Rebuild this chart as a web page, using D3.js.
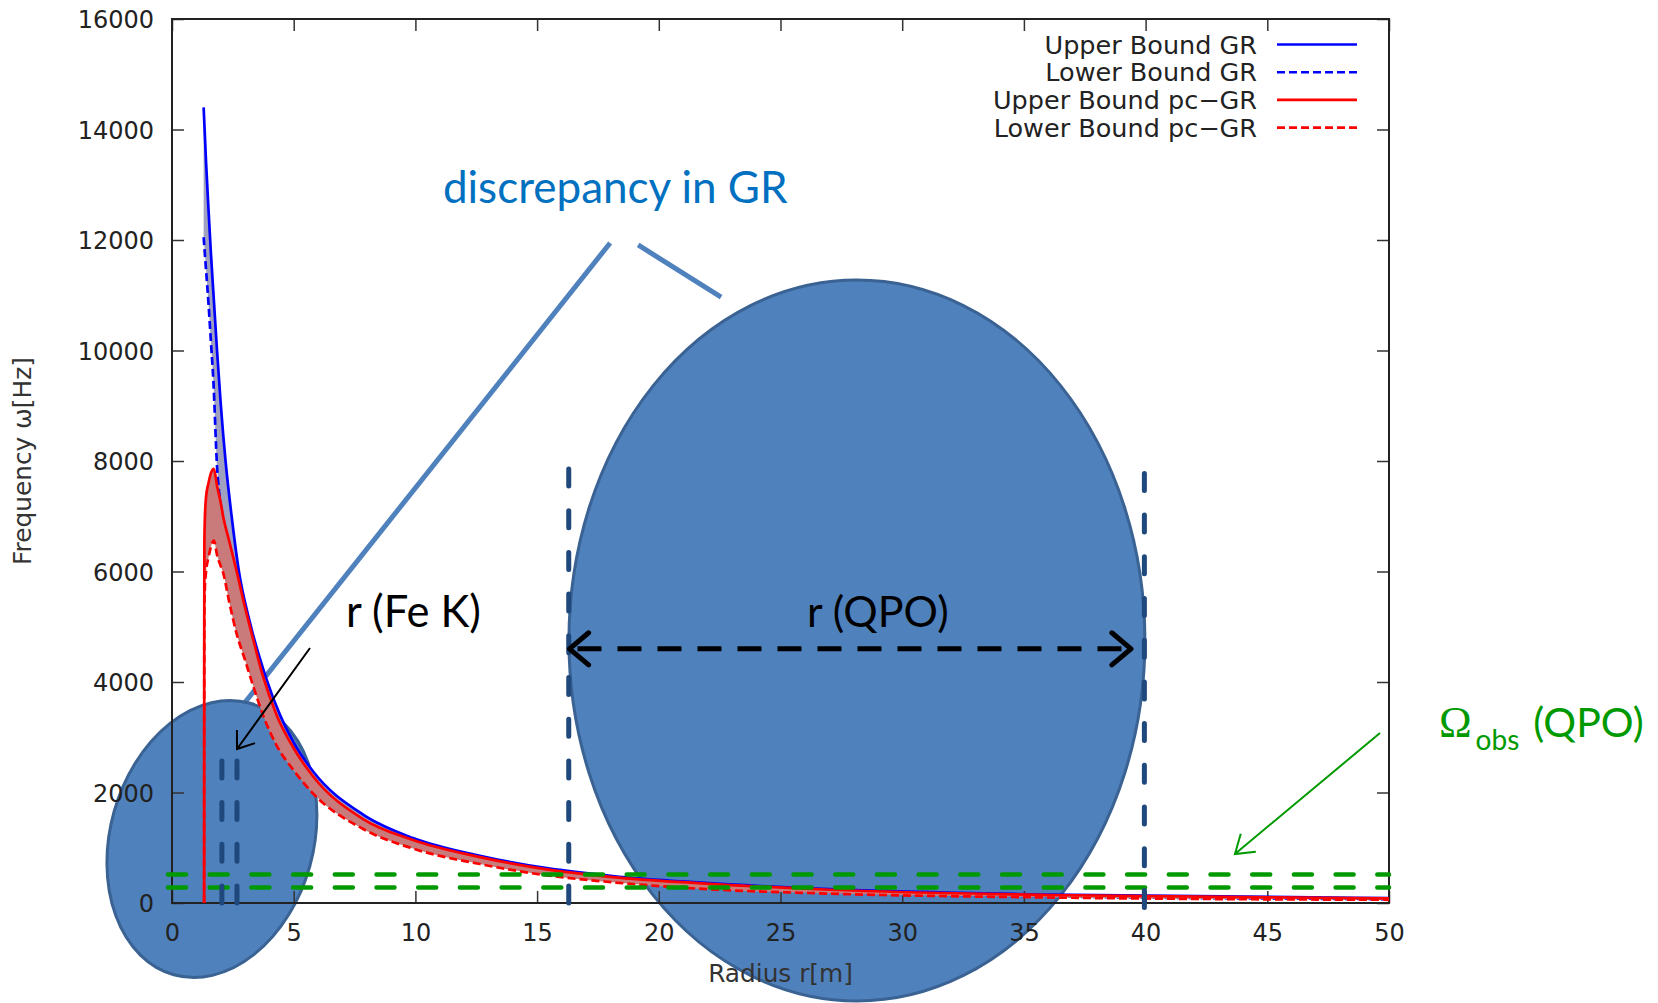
<!DOCTYPE html>
<html>
<head>
<meta charset="utf-8">
<script src="https://cdn.jsdelivr.net/npm/d3@7/dist/d3.min.js"></script>
<style>
body { margin: 0; background: #fff; }
</style>
</head>
<body>
<div id="chart"></div>
<script>
// values (r in units of m, omega in Hz)
var grRadius = [1.3, 1.4, 1.5, 1.6, 1.7, 1.85, 2.0, 2.2, 2.45, 2.75, 3.2, 3.86, 4.44, 5.0, 5.8, 7.85, 9.9, 12.65, 15.4, 18.1, 21.6, 27, 36, 50];
var grUpper  = [14400, 13400, 12550, 11750, 11050, 10000, 9050, 8000, 7000, 6000, 5080, 4080, 3400, 2900, 2380, 1600, 1175, 855, 630, 488, 372, 250, 152, 90];
var grLower  = [12050, 11450, 10850, 10150, 9450, 7900, 7200, 6700, 6000, 5300, 4550, 3700, 3100, 2650, 2150, 1420, 1050, 760, 550, 415, 305, 200, 120, 70];

var pcRadius = [1.32, 1.325, 1.33, 1.35, 1.4, 1.5, 1.6, 1.72, 1.85, 2.0, 2.1, 2.35, 2.67, 3.0, 3.29, 3.74, 4.3, 5.0, 5.8, 7.85, 9.9, 12.65, 15.4, 18.1, 21.6, 27, 36, 50];
var pcUpper  = [0, 5000, 6500, 6950, 7350, 7600, 7780, 7860, 7550, 7250, 7000, 6550, 5980, 5350, 4850, 4100, 3400, 2800, 2290, 1520, 1140, 830, 610, 470, 360, 240, 145, 85];
var pcLower  = [0, 4000, 5200, 5700, 6000, 6250, 6450, 6560, 6300, 6100, 5980, 5450, 4850, 4400, 3990, 3400, 2850, 2400, 1980, 1340, 985, 705, 500, 375, 260, 170, 100, 58];

var xTicks = [0, 5, 10, 15, 20, 25, 30, 35, 40, 45, 50];
var yTicks = [0, 2000, 4000, 6000, 8000, 10000, 12000, 14000, 16000];
var legendLabels = ["Upper Bound GR", "Lower Bound GR", "Upper Bound pc\u2212GR", "Lower Bound pc\u2212GR"];

var qpoBand = [280, 515];          // observed QPO frequency band
var feKRadius = [2.05, 2.67];      // Fe K line radii
var qpoRadius = [16.3, 39.95];     // QPO radius range


function FrequencyChart(elementId, chartWidth, chartHeight, margin) {
    this.elementId = elementId;
    this.chartWidth = chartWidth;
    this.chartHeight = chartHeight;
    this.margin = margin;
}

FrequencyChart.prototype.createFrame = function() {
    this.svg = d3.select(this.elementId).append("svg")
        .attr("width", this.chartWidth)
        .attr("height", this.chartHeight)
        .style("display", "block");
    this.svg.append("rect")
        .attr("width", this.chartWidth)
        .attr("height", this.chartHeight)
        .attr("fill", "#fff");

    this.width = this.chartWidth - this.margin.left - this.margin.right;
    this.height = this.chartHeight - this.margin.top - this.margin.bottom;
    this.x = d3.scaleLinear().domain([0, 50]).range([this.margin.left, this.margin.left + this.width]);
    this.y = d3.scaleLinear().domain([0, 16000]).range([this.margin.top + this.height, this.margin.top]);

    this.under = this.svg.append("g");
    this.plot = this.svg.append("g").style("font-family", "DejaVu Sans");
    this.over = this.svg.append("g");
}

FrequencyChart.prototype.createAxes = function() {
    var x = this.x, y = this.y, m = this.margin;
    var g = this.plot;

    g.append("g")
        .attr("transform", "translate(0," + (m.top + this.height) + ")")
        .call(d3.axisBottom(x).tickValues(xTicks).tickSizeInner(-12).tickSizeOuter(0).tickPadding(21).tickFormat(d3.format("d")));
    var left = g.append("g")
        .attr("transform", "translate(" + m.left + ",0)")
        .call(d3.axisLeft(y).tickValues(yTicks).tickSizeInner(-12).tickSizeOuter(0).tickPadding(18).tickFormat(d3.format("d")));
    g.append("g")
        .attr("transform", "translate(0," + m.top + ")")
        .call(d3.axisTop(x).tickValues(xTicks).tickSizeInner(-12).tickSizeOuter(0).tickFormat(""));
    g.append("g")
        .attr("transform", "translate(" + (m.left + this.width) + ",0)")
        .call(d3.axisRight(y).tickValues(yTicks).tickSizeInner(-12).tickSizeOuter(0).tickFormat(""));

    g.selectAll(".domain").remove();
    g.selectAll(".tick line").attr("stroke", "#333").attr("stroke-width", 1.5);
    g.selectAll(".tick text")
        .attr("fill", "#222")
        .style("font-family", "DejaVu Sans")
        .style("font-size", "24px");
    left.selectAll(".tick text").attr("dy", "0.36em");

    g.append("rect")
        .attr("x", m.left)
        .attr("y", m.top)
        .attr("width", this.width)
        .attr("height", this.height)
        .attr("fill", "none")
        .attr("stroke", "#222")
        .attr("stroke-width", 2);

    g.append("text")
        .attr("x", m.left + this.width / 2)
        .attr("y", 982)
        .attr("text-anchor", "middle")
        .attr("fill", "#333")
        .style("font-size", "24.8px")
        .text("Radius r[m]");

    g.append("text")
        .attr("transform", "translate(31," + (m.top + this.height / 2) + ") rotate(-90)")
        .attr("text-anchor", "middle")
        .attr("fill", "#333")
        .style("font-size", "24.8px")
        .text("Frequency \u03c9[Hz]");
}

FrequencyChart.prototype.createCurves = function() {
    var x = this.x, y = this.y;
    var gr = d3.zip(grRadius, grUpper, grLower);
    var pc = d3.zip(pcRadius, pcUpper, pcLower);

    var band = d3.area()
        .x(function(d) { return x(d[0]); })
        .y0(function(d) { return y(d[2]); })
        .y1(function(d) { return y(d[1]); })
        .curve(d3.curveMonotoneX);
    var upper = d3.line()
        .x(function(d) { return x(d[0]); })
        .y(function(d) { return y(d[1]); })
        .curve(d3.curveMonotoneX);
    var lower = d3.line()
        .x(function(d) { return x(d[0]); })
        .y(function(d) { return y(d[2]); })
        .curve(d3.curveMonotoneX);

    var g = this.plot.append("g").attr("fill", "none").attr("stroke-width", 2.7);
    g.append("path").attr("d", band(gr)).attr("fill", "#a0a0c0").attr("stroke", "none");
    g.append("path").attr("d", upper(gr)).attr("stroke", "#0000ff");
    g.append("path").attr("d", lower(gr)).attr("stroke", "#0000ff").attr("stroke-dasharray", "8,4");
    g.append("path").attr("d", band(pc)).attr("fill", "#c97b7b").attr("stroke", "none");
    g.append("path").attr("d", upper(pc)).attr("stroke", "#ff0000");
    g.append("path").attr("d", lower(pc)).attr("stroke", "#ff0000").attr("stroke-dasharray", "8,4");
}

FrequencyChart.prototype.createLegend = function() {
    var colors = ["#0000ff", "#0000ff", "#ff0000", "#ff0000"];
    var dashes = [null, "8,4", null, "8,4"];
    var legend = this.plot.selectAll(".legend")
        .data(legendLabels)
        .enter().append("g")
        .attr("class", "legend")
        .attr("transform", function(d, i) { return "translate(0," + (44.5 + i * 27.7) + ")"; });

    legend.append("text")
        .attr("x", 1257)
        .attr("dy", "0.36em")
        .attr("text-anchor", "end")
        .attr("fill", "#222")
        .style("font-size", "25.5px")
        .text(function(d) { return d; });

    legend.append("line")
        .attr("x1", 1277)
        .attr("x2", 1357)
        .attr("stroke", function(d, i) { return colors[i]; })
        .attr("stroke-width", 2.6)
        .attr("stroke-dasharray", function(d, i) { return dashes[i]; });
}

// open "V" arrow head at p1, pointing away from p0
function chevron(p0, p1, len, angle) {
    var a = Math.atan2(p0[1] - p1[1], p0[0] - p1[0]);
    var r = angle * Math.PI / 180;
    return "M" + (p1[0] + len * Math.cos(a + r)) + "," + (p1[1] + len * Math.sin(a + r)) +
        "L" + p1[0] + "," + p1[1] +
        "L" + (p1[0] + len * Math.cos(a - r)) + "," + (p1[1] + len * Math.sin(a - r));
}

FrequencyChart.prototype.createNotes = function() {
    var x = this.x, y = this.y;
    var pt = function(d) { return [x(d[0]), y(d[1])]; };

    // callout lines from the "discrepancy" label
    var callouts = [[[18.0, 11946], [2.88, 3566]], [[19.15, 11910], [22.56, 10968]]];
    this.under.selectAll(".callout")
        .data(callouts)
        .enter().append("line")
        .attr("x1", function(d) { return x(d[0][0]); })
        .attr("y1", function(d) { return y(d[0][1]); })
        .attr("x2", function(d) { return x(d[1][0]); })
        .attr("y2", function(d) { return y(d[1][1]); })
        .attr("stroke", "#4f81bd")
        .attr("stroke-width", 5);

    // highlight ellipses
    this.under.append("ellipse")
        .attr("transform", "translate(" + x(1.64) + "," + y(1158) + ") rotate(15.7)")
        .attr("rx", 101.6).attr("ry", 141)
        .attr("fill", "#4f81bd").attr("stroke", "#3a6293").attr("stroke-width", 3);
    this.under.append("ellipse")
        .attr("cx", x(28.14)).attr("cy", y(4751))
        .attr("rx", 288).attr("ry", 360.5)
        .attr("fill", "#4f81bd").attr("stroke", "#3a6293").attr("stroke-width", 3);

    var o = this.over;

    // observed QPO band
    o.selectAll(".qpo-band")
        .data(qpoBand)
        .enter().append("line")
        .attr("x1", x(0) - 4).attr("x2", x(50))
        .attr("y1", function(d) { return y(d); })
        .attr("y2", function(d) { return y(d); })
        .attr("stroke", "#009900")
        .attr("stroke-width", 4.5)
        .attr("stroke-linecap", "round")
        .attr("stroke-dasharray", "18,23.7");

    // radius markers, drawn upwards from the axis
    var markers = feKRadius.map(function(r) { return [r, 0, 2640]; })
        .concat(qpoRadius.map(function(r, i) { return [r, i ? -80 : 0, 7950]; }));
    o.selectAll(".marker")
        .data(markers)
        .enter().append("line")
        .attr("x1", function(d) { return x(d[0]); })
        .attr("x2", function(d) { return x(d[0]); })
        .attr("y1", function(d) { return y(d[1]); })
        .attr("y2", function(d) { return y(d[2]); })
        .attr("stroke", "#1f497d")
        .attr("stroke-width", 5)
        .attr("stroke-linecap", "round")
        .attr("stroke-dasharray", "17,24.7");

    // QPO double arrow
    var a0 = pt([16.33, 4600]), a1 = pt([39.4, 4600]);
    o.append("line")
        .attr("x1", a0[0] + 8).attr("y1", a0[1]).attr("x2", a1[0] - 8).attr("y2", a1[1])
        .attr("stroke", "#000").attr("stroke-width", 5)
        .attr("stroke-dasharray", "24,16");
    o.append("path").attr("d", chevron(a1, a0, 25, 40) + chevron(a0, a1, 25, 40))
        .attr("fill", "none").attr("stroke", "#000").attr("stroke-width", 5)
        .attr("stroke-linecap", "round").attr("stroke-linejoin", "round");

    // Fe K arrow
    var f0 = pt([5.67, 4615]), f1 = pt([2.67, 2787]);
    o.append("path").attr("d", "M" + f0 + "L" + f1 + chevron(f0, f1, 19, 36))
        .attr("fill", "none").attr("stroke", "#000").attr("stroke-width", 2);

    // Omega_obs arrow
    var g0 = pt([49.63, 3077]), g1 = pt([43.67, 887]);
    o.append("path").attr("d", "M" + g0 + "L" + g1 + chevron(g0, g1, 21, 34))
        .attr("fill", "none").attr("stroke", "#009900").attr("stroke-width", 2);

    var label = o.append("g").style("font-family", "Lato");
    label.append("text")
        .attr("x", x(11.13)).attr("y", y(12670))
        .attr("fill", "#0070c0")
        .style("font-size", "44px")
        .text("discrepancy in GR");
    label.append("text")
        .attr("x", x(7.15)).attr("y", y(5000))
        .attr("fill", "#000")
        .style("font-size", "43.5px")
        .text("r (Fe K)");
    label.append("text")
        .attr("x", x(29.0)).attr("y", y(5000))
        .attr("text-anchor", "middle")
        .attr("fill", "#000")
        .style("font-size", "43px")
        .text("r (QPO)");

    var om = label.append("text")
        .attr("x", x(52.05)).attr("y", y(3005))
        .attr("fill", "#009900");
    om.append("tspan").style("font-family", "Liberation Serif").style("font-size", "44px").text("\u03a9");
    om.append("tspan").attr("dx", 4).attr("dy", 13).style("font-size", "28px").text("obs");
    om.append("tspan").attr("dx", 14).attr("dy", -13).style("font-size", "41px").text("(QPO)");
}

FrequencyChart.prototype.create = function() {
    this.createFrame();
    this.createNotes();
    this.createAxes();
    this.createCurves();
    this.createLegend();
}

var chart = new FrequencyChart("#chart", 1658, 1003, {top: 19, right: 269, bottom: 100, left: 172});
chart.create();
</script>
</body>
</html>
